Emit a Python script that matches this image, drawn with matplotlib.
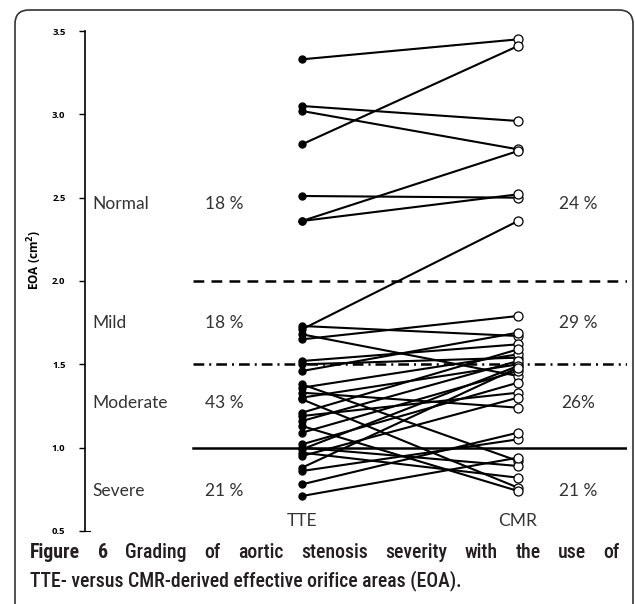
import matplotlib
matplotlib.use('Agg')
import matplotlib.pyplot as plt
from matplotlib import font_manager
from matplotlib.patches import FancyBboxPatch
from matplotlib.transforms import IdentityTransform

# EOA (cm2) per patient, TTE -> CMR
tte = [3.33, 2.82, 3.05, 3.02, 2.51, 2.36, 2.36,
       1.73, 1.71, 1.68, 1.65, 1.52, 1.50, 1.46, 1.38, 1.36, 1.33, 1.30, 1.29,
       1.21, 1.19, 1.16, 1.13, 1.09, 1.02, 1.00, 0.99, 0.97, 0.95, 0.88, 0.86,
       0.78, 0.71]
cmr = [3.45, 3.41, 2.96, 2.79, 2.50, 2.78, 2.52,
       1.67, 2.36, 1.43, 1.79, 1.62, 1.54, 1.69, 0.92, 1.56, 1.24, 1.50, 0.76,
       1.59, 1.33, 1.52, 0.74, 1.46, 1.39, 0.89, 1.49, 0.82, 1.30, 1.48, 1.05,
       1.09, 0.94]

grades = ['Normal', 'Mild', 'Moderate', 'Severe']
grade_y = [2.46, 1.75, 1.27, 0.74]
pct_tte = ['18 %', '18 %', '43 %', '21 %']
pct_cmr = ['24 %', '29 %', '26%', '21 %']
cutoffs = [2.0, 1.5, 1.0]
yticks = [0.5, 1.0, 1.5, 2.0, 2.5, 3.0, 3.5]
methods = ['TTE', 'CMR']

cap_bold = 'Figure 6'
cap_line1 = 'Grading of aortic stenosis severity with the use of'
cap_line2 = 'TTE- versus CMR-derived effective orifice areas (EOA).'

txt_col = '#333333'
cap_col = '#231f20'

# narrowest available sans for the caption
names = set(f.name for f in font_manager.fontManager.ttflist)
cap_font = 'Open Sans'
for cand in ['Roboto Condensed', 'Open Sans Condensed', 'Liberation Sans Narrow', 'Roboto']:
    if cand in names:
        cap_font = cand
        break

fig = plt.figure(figsize=(6.35, 6.04), dpi=100)
ax = fig.add_axes([85/635, 73/604, 542/635, 500/604])

# paired lines
for a, b in zip(tte, cmr):
    ax.plot([0, 1], [a, b], color='black', lw=1.5, zorder=2)
ax.plot([0]*len(tte), tte, 'o', color='black', ms=5, zorder=3)
ax.plot([1]*len(cmr), cmr, 'o', mfc='white', mec='black', mew=0.9, ms=6.5, zorder=4)

# grading cut-offs
x0, x1 = -0.505, 1.51
ax.plot([x0, x1], [cutoffs[0]]*2, color='black', lw=1.8, dashes=(4.3, 2.9), zorder=1)
ax.plot([x0, x1], [cutoffs[1]]*2, color='black', lw=1.8, dashes=(4.3, 2.0, 0.8, 2.0), zorder=1)
ax.plot([x0, x1], [cutoffs[2]]*2, color='black', lw=1.8, zorder=1)

for g, y, p1, p2 in zip(grades, grade_y, pct_tte, pct_cmr):
    ax.text(-0.97, y, g, fontsize=12.5, family='Lato', color=txt_col, va='center')
    ax.text(-0.36, y, p1, fontsize=12.5, family='Lato', color=txt_col, va='center', ha='center')
    ax.text(1.28, y, p2, fontsize=12.5, family='Lato', color=txt_col, va='center', ha='center')

for i, m in enumerate(methods):
    ax.text(i, 0.56, m, fontsize=12.5, family='Lato', color=txt_col, ha='center', va='center')

ax.set_xlim(-1.0046, 1.5046)
ax.set_ylim(0.5, 3.5)
ax.set_yticks(yticks)
ax.set_yticklabels(['%.1f' % v for v in yticks], fontsize=6.8, fontweight='bold', family='Open Sans')
ax.tick_params(axis='y', direction='out', length=4, width=1, pad=10)
ax.set_xticks([])
for s in ['top', 'right']:
    ax.spines[s].set_visible(False)
ax.spines['bottom'].set_bounds(-1.0046, -0.98)
ax.spines['left'].set_linewidth(1.2)
ax.set_ylabel('EOA (cm$^\\mathbf{2}$)', fontsize=8.5, fontweight='bold', family='Open Sans')
ax.yaxis.set_label_coords(-0.075, 0.542)
ax.patch.set_alpha(0)

# caption; first line justified to the full width as in the journal layout
cap_size = 14.2
r = fig.canvas.get_renderer()
y1, y2 = 1 - 553/604, 1 - 581/604
fig.text(30/635, y2, cap_line2, fontsize=cap_size, fontweight='medium', family=cap_font,
         color=cap_col, va='center')

words = [(w, 'bold') for w in cap_bold.split()] + [(w, 'medium') for w in cap_line1.split()]
widths = []
for w, wt in words:
    t = fig.text(0, 0, w, fontsize=cap_size, fontweight=wt, family=cap_font)
    widths.append(t.get_window_extent(r).width)
    t.remove()
gap = (590 - sum(widths)) / (len(words) - 1)
x = 30
for (w, wt), wd in zip(words, widths):
    fig.text(x/635, y1, w, fontsize=cap_size, fontweight=wt, family=cap_font,
             color=cap_col, va='center')
    x += wd + gap

# rounded frame around the figure
frame = FancyBboxPatch((15, -30), 618, 604 - 10 + 30,
                       boxstyle='round,pad=0,rounding_size=14',
                       fc='none', ec='#333333', lw=1.2, transform=IdentityTransform())
fig.patches.append(frame)

plt.savefig('out.png', dpi=100)
